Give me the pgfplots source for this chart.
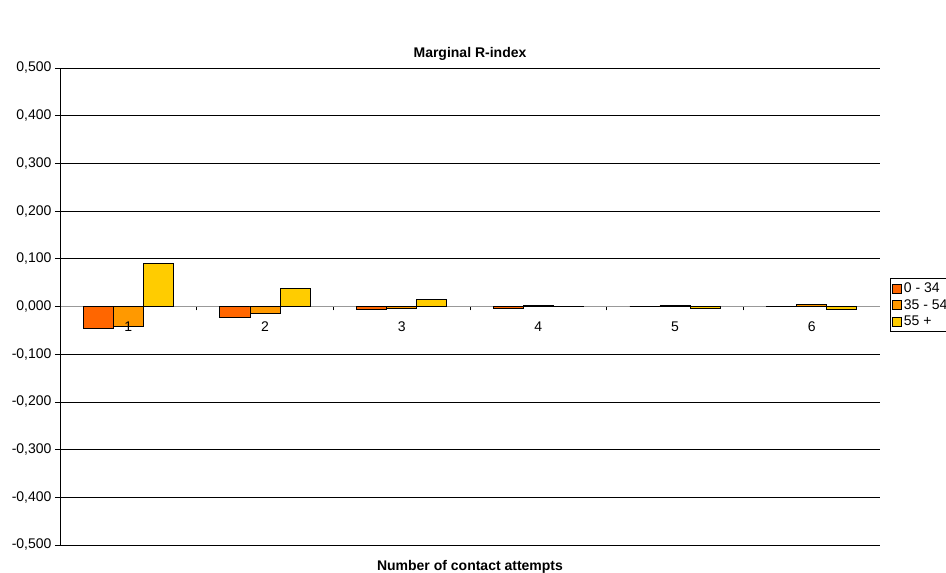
\documentclass[border=0pt]{standalone}
\usepackage{pgfplots}
\pgfplotsset{compat=1.18}
\usepackage{fontspec}
\setmainfont{Liberation Sans}
\definecolor{young}{HTML}{FF6600}
\definecolor{mid}{HTML}{FF9900}
\definecolor{old}{HTML}{FFCC00}

\pgfplotsset{
  chartframe/.style={
    at={(60pt,28pt)}, anchor=south west,
    scale only axis, width=820pt, height=477pt,
    font=\fontsize{14}{16}\selectfont,
    xmin=0.5, xmax=6.5, ymin=-0.5, ymax=0.5,
    /pgf/number format/assume math mode=true,
  },
}

\begin{document}
\begin{tikzpicture}[x=1pt,y=1pt]
\useasboundingbox (0,0) rectangle (946,573);
\begin{axis}[
  chartframe,
  axis y line*=left, axis x line*=middle,
  axis line style={black, line width=0.8pt, -},
  x axis line style={gray!80, line width=1pt},
  ytick={-0.5,-0.4,...,0.5},
  tick align=outside, major tick length=5pt,
  ymajorgrids, major grid style={black, line width=0.7pt},
  xtick={1,...,6}, xticklabels={},
  x tick style={draw=none},
  minor xtick={1.5,2.5,...,5.5},
  minor tick length=4pt,
  minor x tick style={draw=black, line width=0.7pt},
  tick style={black, line width=0.7pt},
  yticklabel style={/pgf/number format/.cd, fixed, fixed zerofill, precision=3, use comma},
  ybar, bar width=0.22,
  title={\bfseries Marginal R-index},
  title style={at={(0.5,1)}, anchor=center, yshift=8pt},
  xlabel={\bfseries Number of contact attempts},
  xlabel style={at={(0.5,0)}, anchor=center, yshift=-22pt},
  legend style={at={(1.0122,0.503)}, anchor=west, draw=black, line width=0.7pt,
    font=\fontsize{14}{16}\selectfont, row sep=1.5pt, inner sep=2pt,
    cells={anchor=west}},
  legend image code/.code={\draw[#1, line width=0.6pt] (0pt,-4.5pt) rectangle (9pt,4.5pt);},
  every axis plot/.append style={draw=black, line width=0.8pt},
]
\addplot[fill=young, bar shift=-0.22] coordinates {(1,-0.046) (2,-0.022) (3,-0.007) (4,-0.003) (5,0.000) (6,0.001)};
\addplot[fill=mid, bar shift=0] coordinates {(1,-0.041) (2,-0.015) (3,-0.005) (4,0.002) (5,0.003) (6,0.004)};
\addplot[fill=old, bar shift=0.22] coordinates {(1,0.090) (2,0.037) (3,0.014) (4,0.001) (5,-0.003) (6,-0.007)};
\legend{0 - 34, 35 - 54, 55 +}
\draw[gray!80, line width=0.8pt] (rel axis cs:1,0) -- (rel axis cs:1,1);
\end{axis}
% category labels sit on the zero line, above the bars
\begin{axis}[
  chartframe,
  axis y line=none, axis x line*=middle,
  x axis line style={draw=none},
  ytick=\empty,
  xtick={1,...,6}, x tick style={draw=none},
  xticklabel style={yshift=-12pt},
]
\end{axis}
\end{tikzpicture}
\end{document}
